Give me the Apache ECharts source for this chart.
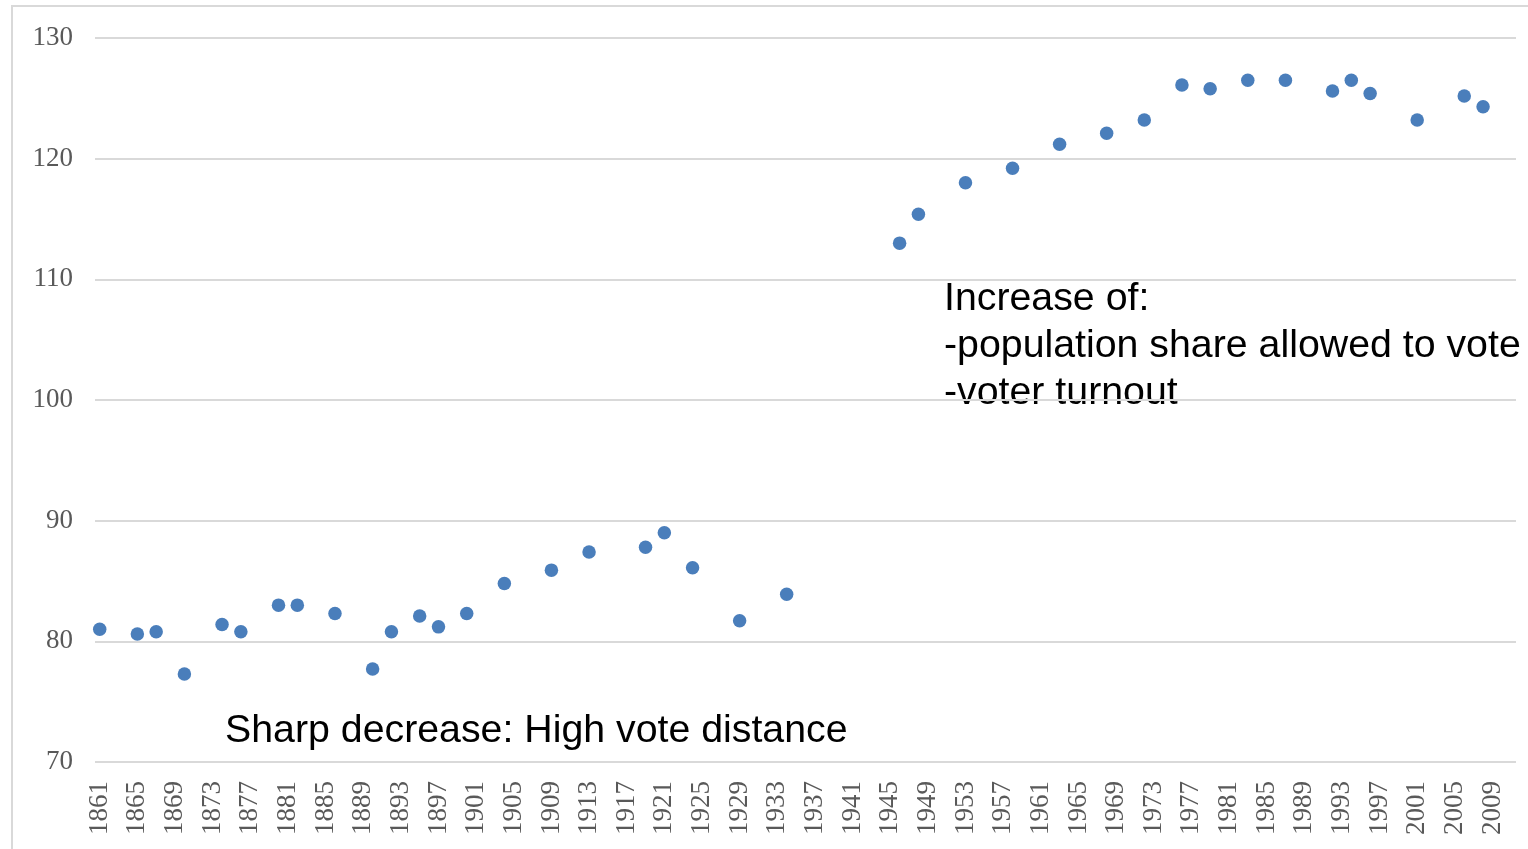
<!DOCTYPE html>
<html>
<head>
<meta charset="utf-8">
<script src="https://cdn.jsdelivr.net/npm/echarts@6/dist/echarts.min.js"></script>
<style>
    html, body { margin: 0; padding: 0; background: #fff; }
    #chart { width: 1528px; height: 849px; }
</style>
</head>
<body>
<div id="chart"></div>
<script>
// election years and the index value
const electionYears = [1861, 1865, 1867, 1870, 1874, 1876, 1880, 1882, 1886, 1890,
    1892, 1895, 1897, 1900, 1904, 1909, 1913, 1919, 1921, 1924, 1929, 1934,
    1946, 1948, 1953, 1958, 1963, 1968, 1972, 1976, 1979, 1983, 1987, 1992,
    1994, 1996, 2001, 2006, 2008]
const indexValues = [81.0, 80.6, 80.8, 77.3, 81.4, 80.8, 83.0, 83.0, 82.3, 77.7,
    80.8, 82.1, 81.2, 82.3, 84.8, 85.9, 87.4, 87.8, 89.0, 86.1, 81.7, 83.9,
    113.0, 115.4, 118.0, 119.2, 121.2, 122.1, 123.2, 126.1, 125.8, 126.5, 126.5, 125.6,
    126.5, 125.4, 123.2, 125.2, 124.3]
// axis categories: every year 1861..2011, label every 4th
const firstYear = 1861
const lastYear = 2011
const yTicks = { min: 70, max: 130, step: 10 }

const noteLow = 'Sharp decrease: High vote distance'
const noteHigh = ['Increase of:', '-population share allowed to vote', '-voter turnout']

const years = []
for (let y = firstYear; y <= lastYear; y++) years.push(String(y))
const points = electionYears.map((y, i) => [String(y), indexValues[i]])

const labelFont = { fontFamily: 'Liberation Serif', fontSize: 27, color: '#595959' }
const noteStyle = { fontFamily: 'Liberation Sans', fontSize: 39.3, fill: '#000' }

const myChart = echarts.init(document.getElementById('chart'))
myChart.setOption({
    animation: false,
    backgroundColor: '#fff',
    grid: {
        left: 95,
        right: 12,
        top: 38,
        bottom: 87,
    },
    xAxis: {
        type: 'category',
        data: years,
        boundaryGap: true,
        axisLine: { show: false },
        axisTick: { show: false },
        axisLabel: {
            ...labelFont,
            interval: 3,
            rotate: 90,
            margin: 19,
        },
        splitLine: { show: false },
    },
    yAxis: {
        type: 'value',
        min: yTicks.min,
        max: yTicks.max,
        interval: yTicks.step,
        axisLine: { show: false },
        axisTick: { show: false },
        axisLabel: {
            ...labelFont,
            margin: 22,
        },
        splitLine: {
            lineStyle: { color: '#d9d9d9', width: 2 }
        },
    },
    series: [
        {
            type: 'scatter',
            symbol: 'circle',
            symbolSize: 13.5,
            itemStyle: { color: '#4a7ebb', opacity: 1 },
            data: points,
        }
    ],
    graphic: [
        {
            type: 'rect',
            silent: true,
            shape: { x: 12, y: 6, width: 1540, height: 870 },
            style: { fill: 'none', stroke: '#d9d9d9', lineWidth: 2 },
        },
        {
            type: 'text',
            x: 225, y: 731,
            style: { ...noteStyle, text: noteLow, verticalAlign: 'middle' },
        },
        ...noteHigh.map((t, i) => ({
            type: 'text',
            x: 944, y: 299 + i * 47,
            style: { ...noteStyle, text: t, verticalAlign: 'middle' },
        })),
    ],
})
</script>
</body>
</html>
